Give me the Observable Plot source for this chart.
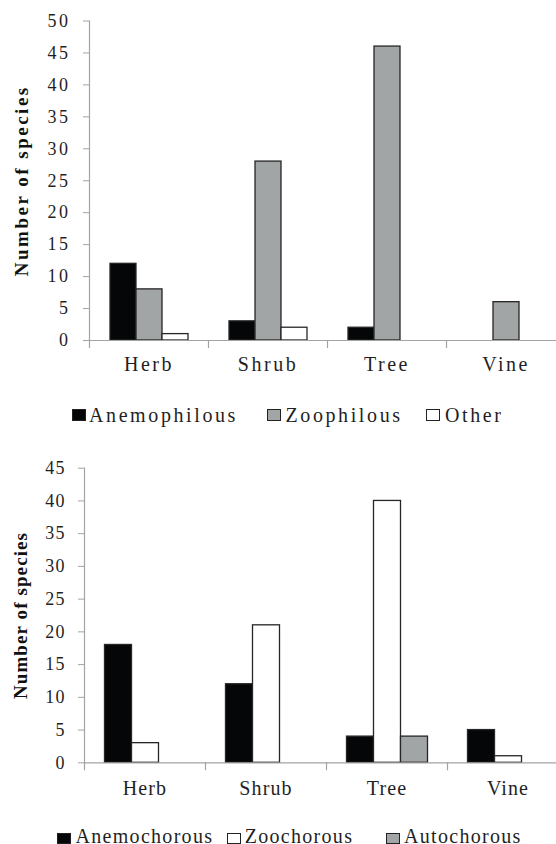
<!DOCTYPE html>
<html>
<head>
<meta charset="utf-8">
<script src="https://cdn.jsdelivr.net/npm/d3@7"></script>
<script src="https://cdn.jsdelivr.net/npm/@observablehq/plot@0.6"></script>
<style>
  html, body { margin: 0; padding: 0; background: #fff; }
  body { width: 556px; height: 844px; overflow: hidden; position: relative;
         font-family: "Liberation Serif", "Times New Roman", serif; }
  .chart { position: absolute; left: 0; width: 580px; }
  #c1 { top: 0; }
  #c2 { top: 440px; }
  .chart svg text { font-family: "Liberation Serif", "Times New Roman", serif; }
  #c1 svg text { letter-spacing: 2.5px; }
  #c2 svg text { letter-spacing: 1.1px; }
  svg g[aria-label="ylabel"] text { letter-spacing: 1px !important; }
  .legend { position: absolute; left: 0; width: 556px; height: 20px; }
  .item { position: absolute; font-size: 20px; line-height: 16px; color: #1f1f1f; white-space: nowrap;
          font-family: "Liberation Serif", "Times New Roman", serif; }
  .sw { position: absolute; box-sizing: border-box; border: 1px solid #222; }
</style>
</head>
<body>
<div id="c1" class="chart"></div>
<div id="l1" class="legend"></div>
<div id="c2" class="chart"></div>
<div id="l2" class="legend"></div>
<script>
// ---- data ----
const habits = ["Herb", "Shrub", "Tree", "Vine"];

const pollSeries = ["Anemophilous", "Zoophilous", "Other"];
const anemophilous = [12, 3, 2, 0];
const zoophilous = [8, 28, 46, 6];
const otherPoll = [1, 2, 0, 0];
const yTicks1 = [0, 5, 10, 15, 20, 25, 30, 35, 40, 45, 50];

const dispSeries = ["Anemochorous", "Zoochorous", "Autochorous"];
const anemochorous = [18, 12, 4, 5];
const zoochorous = [3, 21, 40, 1];
const autochorous = [0, 0, 4, 0];
const yTicks2 = [0, 5, 10, 15, 20, 25, 30, 35, 40, 45];

const yTitle = "Number of species";

const BLACK = "#050608", GRAY = "#a2a5a5", WHITE = "#ffffff";
const pollColors = [BLACK, GRAY, WHITE];
const dispColors = [BLACK, WHITE, GRAY];

function rows(cats, series, cols) {
  return cats.flatMap((c, i) => series.map((s, j) => ({category: c, series: s, value: cols[j][i]})));
}
const data1 = rows(habits, pollSeries, [anemophilous, zoophilous, otherPoll]);
const data2 = rows(habits, dispSeries, [anemochorous, zoochorous, autochorous]);

const AXIS = "#a3a3a3";
const tickShape = {draw(context, l) { context.moveTo(0, 0); context.lineTo(0, -l); }};

function chart(o) {
  return Plot.plot({
    width: o.width, height: o.height,
    marginLeft: o.marginLeft, marginRight: o.marginRight,
    marginTop: o.marginTop, marginBottom: o.marginBottom,
    style: {fontFamily: "Liberation Serif, Times New Roman, serif", color: "#1f1f1f",
            background: "transparent", maxWidth: "none", overflow: "visible"},
    fx: {domain: habits, padding: 0, label: null},
    x: {domain: o.series, paddingInner: 0, paddingOuter: 0.72, axis: null},
    y: {domain: o.yDomain},
    color: {domain: o.series, range: o.colors},
    marks: [
      Plot.barY(o.data, {filter: d => d.value > 0, fx: "category", x: "series", y: "value",
                         fill: "series", stroke: "#262626", strokeWidth: 1.3}),
      Plot.frame({anchor: "bottom", stroke: AXIS, strokeWidth: 1.2}),
      Plot.frame({anchor: "left", facetAnchor: "left", stroke: AXIS, strokeWidth: 1.2}),
      Plot.vector(habits, {fx: d => d, frameAnchor: "bottom-left", rotate: 180, length: 7,
                           anchor: "start", shape: tickShape, stroke: AXIS, strokeWidth: 1.2}),
      Plot.axisY({ticks: o.yTicks, tickSize: 6, tickPadding: 13, stroke: AXIS, fill: "#1f1f1f",
                  fontSize: 18, label: null}),
      Plot.axisFx({anchor: "bottom", tickSize: 0, tickPadding: o.fxPad, fill: "#1f1f1f",
                   fontSize: 20, label: null}),
      Plot.text([yTitle], {text: d => d, frameAnchor: "left", textAnchor: "middle",
                           facetAnchor: "left", rotate: -90,
                           dx: o.labelDx, fontWeight: "bold", fontSize: 19, fill: "#111",
                           ariaLabel: "ylabel"})
    ]
  });
}

document.getElementById("c1").append(chart({
  data: data1, series: pollSeries, colors: pollColors, yDomain: [0, 50], yTicks: yTicks1,
  width: 580, height: 400, marginLeft: 88, marginRight: 14, marginTop: 20.5, marginBottom: 60,
  fxPad: 16.5, labelDx: -67.5
}));

document.getElementById("c2").append(chart({
  data: data2, series: dispSeries, colors: dispColors, yDomain: [0, 45], yTicks: yTicks2,
  width: 580, height: 360, marginLeft: 83.5, marginRight: 12.5, marginTop: 27.7, marginBottom: 37.7,
  fxPad: 17.5, labelDx: -63.5
}));

// ---- legends (HTML, below each chart) ----
function legend(el, series, colors, top, items, ls) {
  const box = document.getElementById(el);
  box.style.top = top + "px";
  series.forEach((s, i) => {
    const sw = document.createElement("div");
    sw.className = "sw";
    sw.style.left = items[i][0] + "px";
    sw.style.top = items[i][2] + "px";
    sw.style.width = "14px";
    sw.style.height = items[i][3] + "px";
    sw.style.background = colors[i];
    box.append(sw);
    const t = document.createElement("div");
    t.className = "item";
    t.style.left = items[i][1] + "px";
    t.style.top = "0px";
    t.style.letterSpacing = ls + "px";
    t.textContent = s;
    box.append(t);
  });
}
legend("l1", pollSeries, pollColors, 407, [[72, 89, 2, 12], [267, 285.5, 2, 12], [425.5, 445, 2, 12]], 2.6);
legend("l2", dispSeries, dispColors, 828, [[56.7, 75.5, 5, 11], [227, 244.7, 5, 11], [385.8, 404, 5, 11]], 1.3);
</script>
</body>
</html>
